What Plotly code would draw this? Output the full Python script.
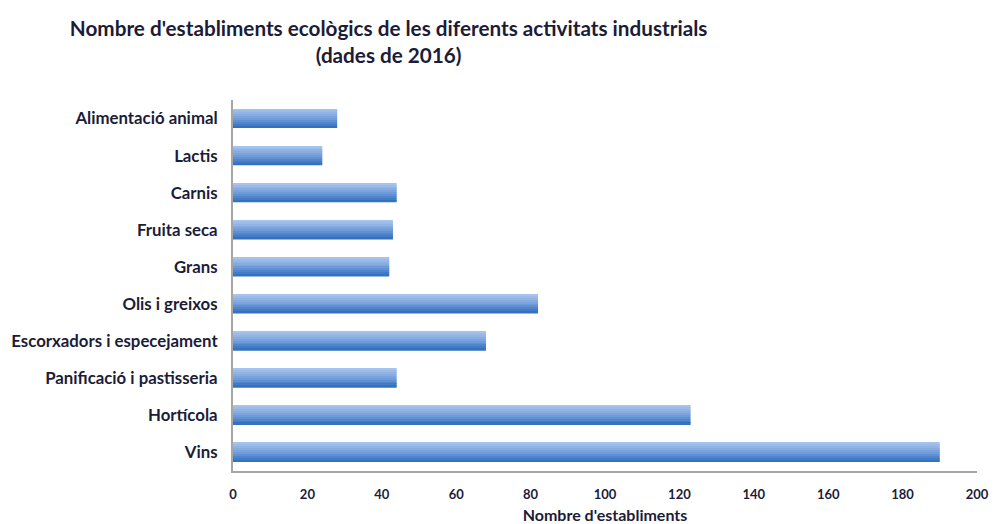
import plotly.graph_objects as go

categories = ["Alimentació animal", "Lactis", "Carnis", "Fruita seca", "Grans",
              "Olis i greixos", "Escorxadors i especejament",
              "Panificació i pastisseria", "Hortícola", "Vins"]
values = [28, 24, 44, 43, 42, 82, 68, 44, 123, 190]
x_ticks = [0, 20, 40, 60, 80, 100, 120, 140, 160, 180, 200]

title_text = "Nombre d'establiments ecològics de les diferents activitats industrials<br>(dades de 2016)"
x_title = "Nombre d'establiments"

FONT = "Lato"
TEXT = "#1c1c38"

fig = go.Figure()

# gradient bars: overlay thin strips (light at top, dark at bottom)
bar_h = 0.51
n = 10
top_c = (166, 196, 235)
mid_c = (118, 160, 220)
bot_c = (52, 114, 192)
def lerp(a, b, t):
    return tuple(int(round(a[i] + (b[i] - a[i]) * t)) for i in range(3))
for k in range(n):
    t = k / (n - 1)
    c = lerp(top_c, mid_c, t / 0.5) if t < 0.5 else lerp(mid_c, bot_c, (t - 0.5) / 0.5)
    fig.add_trace(go.Bar(
        y=categories, x=values, orientation="h",
        width=bar_h / n + 0.002, offset=-bar_h / 2 + k * bar_h / n,
        marker=dict(color="rgb(%d,%d,%d)" % c, line=dict(width=0)),
        showlegend=False, hoverinfo="x+y",
    ))

fig.update_layout(
    width=994, height=524,
    margin=dict(l=233, r=17, t=100, b=53, autoexpand=False),
    paper_bgcolor="white", plot_bgcolor="white",
    barmode="overlay",
    title=dict(text=title_text, x=0.391, xanchor="center", y=0.931, yanchor="top",
               font=dict(family=FONT, size=20.7, color=TEXT, weight="bold")),
    font=dict(family=FONT, color=TEXT),
)
fig.update_xaxes(range=[0, 200], tickvals=x_ticks, showgrid=False, zeroline=False,
                 showline=True, linecolor="#a6a6a6", linewidth=2, ticks="",
                 tickfont=dict(family=FONT, size=13, color=TEXT, weight="bold"),
                 ticklabelstandoff=10, automargin=False,
                 title=dict(text=x_title, standoff=14,
                            font=dict(family=FONT, size=16, color=TEXT, weight="bold")))
fig.update_yaxes(autorange="reversed", showgrid=False, zeroline=False,
                 showline=True, linecolor="#a6a6a6", linewidth=2, ticks="",
                 ticklabelstandoff=10, automargin=False,
                 tickfont=dict(family=FONT, size=16.8, color=TEXT, weight="bold"))

fig.write_html("out.html", config={"displayModeBar": False},
               post_script="document.body.style.margin='0';")
